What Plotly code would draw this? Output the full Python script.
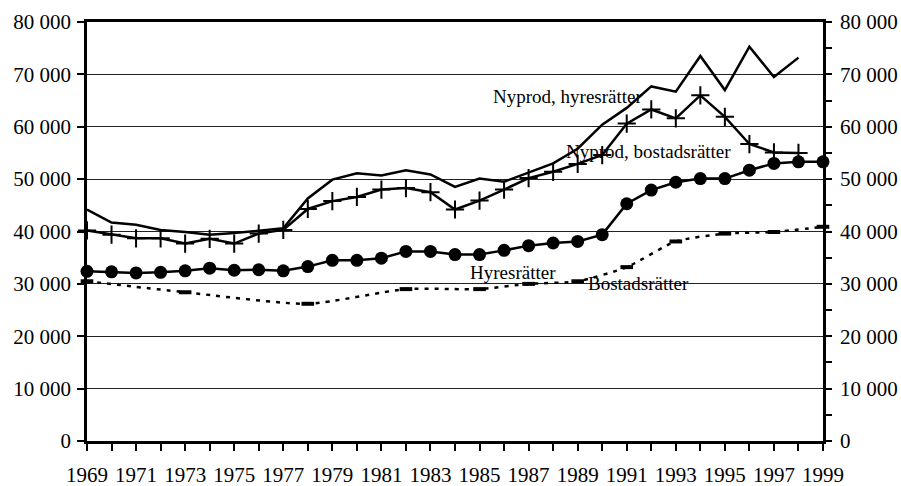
import plotly.graph_objects as go

years = list(range(1969, 2000))

# Nyprod, hyresrätter (1969-1998)
nyprod_hyres = [44200, 41700, 41300, 40300, 39900, 39400, 39700, 40200, 40600, 46300,
                49900, 51100, 50700, 51700, 50900, 48500, 50100, 49500, 51300, 53000,
                55800, 60400, 63600, 67700, 66700, 73500, 67000, 75300, 69500, 73200]

# Nyprod, bostadsrätter (1969-1998)
nyprod_bostad = [40200, 39400, 38700, 38700, 37700, 38600, 37700, 39600, 40300, 44300,
                 45800, 46600, 48000, 48300, 47500, 44200, 45900, 48000, 50200, 51400,
                 52900, 54600, 60600, 63300, 61600, 66000, 61900, 56700, 55100, 55000]

# Hyresrätter (1969-1999)
hyres = [32400, 32300, 32100, 32200, 32500, 33000, 32600, 32700, 32500, 33300,
         34500, 34500, 34900, 36200, 36200, 35600, 35600, 36400, 37300, 37800,
         38100, 39400, 45300, 47900, 49400, 50100, 50100, 51700, 53000, 53300, 53300]

# Bostadsrätter (only observed years)
bostad_years = [1969, 1973, 1978, 1982, 1985, 1987, 1989, 1991, 1993, 1995, 1997, 1999]
bostad = [30500, 28400, 26200, 29000, 29000, 30000, 30500, 33200, 38100, 39600, 39900, 40900]

labels = ["Nyprod, hyresrätter", "Nyprod, bostadsrätter", "Hyresrätter", "Bostadsrätter"]
label_x = [1985.45, 1988.45, 1984.55, 1989.35]
label_y = [65800, 55300, 32100, 30000]

FONT = "Liberation Serif, Times New Roman, serif"

fig = go.Figure()

fig.add_trace(go.Scatter(x=years[:30], y=nyprod_hyres, mode="lines",
                         line=dict(color="black", width=2.5), cliponaxis=False))
fig.add_trace(go.Scatter(x=years[:30], y=nyprod_bostad, mode="lines+markers",
                         line=dict(color="black", width=2.5),
                         marker=dict(symbol="cross-thin", size=13,
                                     line=dict(color="black", width=2)),
                         cliponaxis=False))
fig.add_trace(go.Scatter(x=years, y=hyres, mode="lines+markers",
                         line=dict(color="black", width=2.5),
                         marker=dict(symbol="circle", size=13, color="black"),
                         cliponaxis=False))
fig.add_trace(go.Scatter(x=bostad_years, y=bostad, mode="lines+markers",
                         line=dict(color="black", width=2.5, dash="4px,6px",
                                   shape="spline", smoothing=0.6),
                         marker=dict(symbol="line-ew", size=9,
                                     line=dict(color="black", width=4)),
                         cliponaxis=False, yaxis="y2"))

for t, x, y in zip(labels, label_x, label_y):
    fig.add_annotation(x=x, y=y, text=t, showarrow=False, xanchor="left",
                       yanchor="middle", font=dict(family=FONT, size=19, color="black"))

fig.update_layout(
    width=901, height=486,
    margin=dict(l=87, r=78, t=22, b=45),
    paper_bgcolor="white", plot_bgcolor="white",
    showlegend=False,
    hovermode=False,
    separators=". ",
    font=dict(family=FONT, size=21, color="black"),
    xaxis=dict(range=[1969, 1999], tickmode="linear", tick0=1969, dtick=2,
               ticks="outside", ticklen=7, tickwidth=2, tickcolor="black",
               minor=dict(dtick=1, tick0=1969, ticks="outside", ticklen=7,
                          tickwidth=2, tickcolor="black"),
               showline=True, linewidth=2.5, linecolor="black", mirror=True,
               showgrid=False, zeroline=False, ticklabelstandoff=6,
               automargin=False),
    yaxis=dict(range=[0, 80000], tickmode="linear", dtick=10000, tickformat=",d",
               ticks="outside", ticklen=7, tickwidth=2, tickcolor="black",
               showline=True, linewidth=2.5, linecolor="black",
               showgrid=True, gridcolor="#222", gridwidth=1, zeroline=False,
               ticklabelstandoff=2, automargin=False),
    yaxis2=dict(range=[0, 80000], overlaying="y", side="right", tickmode="linear",
                dtick=10000, tickformat=",d",
                ticks="outside", ticklen=6, tickwidth=2, tickcolor="black",
                minor=dict(dtick=5000, ticks="outside", ticklen=6, tickwidth=2,
                           tickcolor="black"),
                showline=True, linewidth=2.5, linecolor="black",
                showgrid=False, zeroline=False, ticklabelstandoff=4,
                automargin=False),
)

# the browser's default body margin would shift the whole figure by 8px
fig.write_html("out.html", config={"displayModeBar": False},
               post_script="document.body.style.margin = '0';")
